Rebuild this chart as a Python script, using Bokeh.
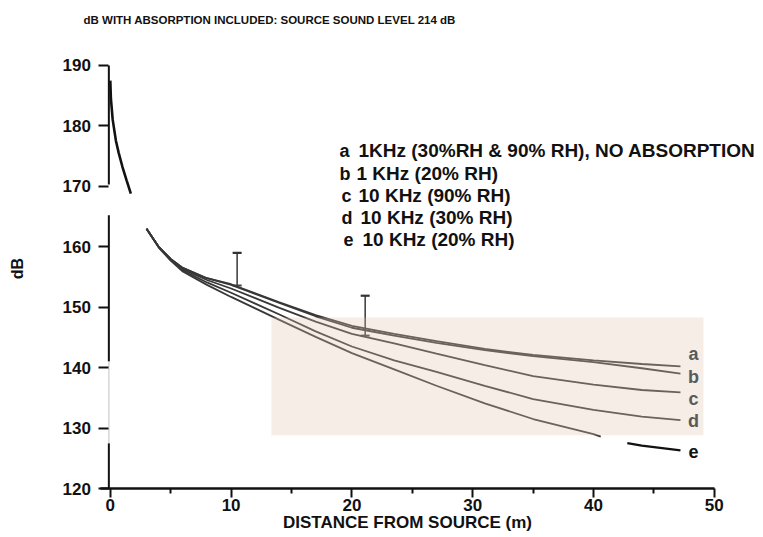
from bokeh.plotting import figure
from bokeh.models import Range1d, Label, Whisker, ColumnDataSource, TeeHead, FixedTicker
from bokeh.embed import file_html
from bokeh.resources import INLINE

# ---------------- data ----------------
near_dist = [0.0, 0.05, 0.2, 0.46, 0.7, 1.01, 1.35, 1.70]
near_db = [187.5, 184.5, 181.0, 177.6, 175.5, 173.2, 171.0, 168.8]

dist = [3, 4, 5, 6, 8, 10, 12, 14, 17, 20, 23.5, 27, 31, 35, 40, 44, 47.2]
db_a = [163.0, 160.0, 158.0, 156.5, 154.8, 153.8, 152.3, 150.8, 148.7, 146.9, 145.6, 144.4, 143.1, 142.1, 141.2, 140.6, 140.2]
db_b = [163.0, 160.0, 158.0, 156.5, 154.8, 153.7, 152.2, 150.7, 148.5, 146.6, 145.3, 144.1, 142.9, 141.9, 140.9, 139.9, 139.0]
db_c = [163.0, 160.0, 157.9, 156.3, 154.5, 153.1, 151.5, 149.9, 147.6, 145.6, 144.0, 142.3, 140.4, 138.6, 137.2, 136.3, 135.9]
db_d = [163.0, 160.0, 157.8, 156.1, 154.1, 152.4, 150.6, 148.8, 146.0, 143.5, 141.2, 139.3, 137.0, 134.8, 133.0, 131.9, 131.3]
dist_e_in = [3, 4, 5, 6, 8, 10, 12, 14, 17, 20, 23.5, 27, 31, 35, 40, 40.6]
db_e_in = [163.0, 159.9, 157.7, 155.9, 153.7, 151.7, 149.8, 147.9, 145.1, 142.4, 139.7, 137.0, 134.1, 131.5, 129.0, 128.6]
dist_e_out = [42.8, 44, 47.2]
db_e_out = [127.5, 127.1, 126.3]

bar_dist = [10.5, 21.1]
bar_low = [153.6, 145.3]
bar_high = [159.0, 151.9]

shade_x = [13.34, 49.1]
shade_y = [128.8, 148.3]

axis_break = [170.3, 165.2]
axis_faint = [141.0, 127.5]

y_ticks = [120, 130, 140, 150, 160, 170, 180, 190]
x_ticks = [0, 10, 20, 30, 40, 50]
x_minor = [5, 15, 25, 35, 45]

curve_keys = ["a", "b", "c", "d", "e"]
curve_key_db = [142.3, 138.5, 134.8, 131.25, 126.1]

legend_keys = ["a", "b", "c", "d", "e"]
legend_texts = ["1KHz (30%RH & 90% RH), NO ABSORPTION", "1 KHz (20% RH)",
                "10 KHz (90% RH)", "10 KHz (30% RH)", "10 KHz (20% RH)"]

title_text = "dB WITH ABSORPTION INCLUDED: SOURCE SOUND LEVEL 214 dB"
x_label = "DISTANCE FROM SOURCE (m)"
y_label = "dB"

# ---------------- layout / styling ----------------
W, H = 763, 537
PX0, PXM = 109.8, 12.08      # page x of 0 m, pixels per metre
PY120, PYDB = 488.0, 6.043   # page y of 120 dB, pixels per dB

FONT = "Liberation Sans"
INK = "#111111"
LINE = "#383838"

x_range = Range1d(-PX0 / PXM, (W - PX0) / PXM)
y_range = Range1d(120 - (H - PY120) / PYDB, 120 + PY120 / PYDB)

p = figure(width=W, height=H, output_backend="svg", toolbar_location=None,
           x_range=x_range, y_range=y_range,
           min_border_left=0, min_border_right=0, min_border_top=0, min_border_bottom=0)
p.background_fill_color = "white"
p.border_fill_color = "white"
p.outline_line_color = None
p.xgrid.visible = False
p.ygrid.visible = False


def dx(px):
    return (px - PX0) / PXM


def dy(py):
    return 120 + (PY120 - py) / PYDB


ax_x = -0.12   # location of the (broken) vertical axis

# x axis
xa = p.xaxis[0]
xa.fixed_location = y_ticks[0]
xa.bounds = (-0.8, x_ticks[-1])
xa.ticker = FixedTicker(ticks=x_ticks, minor_ticks=x_minor)
xa.axis_line_color = INK
xa.axis_line_width = 2.5
xa.major_tick_line_color = INK
xa.major_tick_line_width = 2
xa.major_tick_out = 9
xa.major_tick_in = 0
xa.minor_tick_line_color = INK
xa.minor_tick_line_width = 2
xa.minor_tick_out = 5
xa.minor_tick_in = 0
xa.major_label_standoff = 1
xa.major_label_text_font = FONT
xa.major_label_text_font_style = "bold"
xa.major_label_text_font_size = "17px"
xa.major_label_text_color = INK
xa.axis_label = x_label
xa.axis_label_text_font = FONT
xa.axis_label_text_font_style = "bold"
xa.axis_label_text_font_size = "17px"
xa.axis_label_text_color = INK
xa.axis_label_standoff = -1

# y axis (the 120 tick coincides with the x axis line, so bounds start above it)
ya = p.yaxis[0]
ya.fixed_location = ax_x
ya.bounds = (122.8, y_ticks[-1])
ya.ticker = FixedTicker(ticks=y_ticks, minor_ticks=[])
ya.axis_line_color = None
ya.major_tick_line_color = INK
ya.major_tick_line_width = 2
ya.major_tick_out = 10
ya.major_tick_in = 0
ya.minor_tick_line_color = None
ya.major_label_standoff = 8
ya.major_label_text_font = FONT
ya.major_label_text_font_style = "bold"
ya.major_label_text_font_size = "17px"
ya.major_label_text_color = INK
ya.axis_label = y_label
ya.axis_label_text_font = FONT
ya.axis_label_text_font_style = "bold"
ya.axis_label_text_font_size = "16px"
ya.axis_label_text_color = INK
ya.axis_label_standoff = 33

# broken / partly faded y axis line
p.segment(x0=[ax_x] * 3, y0=[y_ticks[-1], axis_break[1], axis_faint[1]],
          x1=[ax_x] * 3, y1=[axis_break[0], axis_faint[0], y_ticks[0]],
          line_color=INK, line_width=2)
p.segment(x0=[ax_x], y0=[axis_faint[0]], x1=[ax_x], y1=[axis_faint[1]],
          line_color="#d6d6d6", line_width=1.5)

# curves
p.line(near_dist, near_db, line_color=INK, line_width=2.6)
for ys in (db_a, db_b, db_c, db_d):
    p.line(dist, ys, line_color=LINE, line_width=1.8)
p.line(dist_e_in, db_e_in, line_color=LINE, line_width=1.8)
p.line(dist_e_out, db_e_out, line_color=INK, line_width=2.4)

# shaded region on top (tints the lines inside)
p.quad(left=shade_x[0], right=shade_x[1], bottom=shade_y[0], top=shade_y[1],
       fill_color="#e1c3ac", fill_alpha=0.3, line_color=None)

# error bars
src = ColumnDataSource(dict(x=bar_dist, lo=bar_low, hi=bar_high))
p.add_layout(Whisker(source=src, base="x", lower="lo", upper="hi", dimension="height",
                     line_color="#444444", line_width=1.6,
                     upper_head=TeeHead(size=9, line_color="#333333", line_width=2.2),
                     lower_head=TeeHead(size=9, line_color="#444444", line_width=2)))

# curve end labels
for k, yv in zip(curve_keys, curve_key_db):
    p.add_layout(Label(x=48.28, y=yv, text=k, text_align="center", text_baseline="middle",
                       text_font=FONT, text_font_style="bold", text_font_size="18px",
                       text_color=INK if k == "e" else "#5a5a5a"))

# title
p.add_layout(Label(x=dx(83), y=dy(19.5), text=title_text, text_baseline="middle",
                   text_font=FONT, text_font_style="bold", text_font_size="11.5px",
                   text_color=INK))

# legend text
key_px = [339, 339, 341, 341, 343]
txt_px = [358, 356, 358, 360, 362]
row_py = [150, 173, 195, 217, 239]
for k, t, kx, tx, ry in zip(legend_keys, legend_texts, key_px, txt_px, row_py):
    p.add_layout(Label(x=dx(kx), y=dy(ry), text=k, text_baseline="middle",
                       text_font=FONT, text_font_style="bold", text_font_size="18px",
                       text_color=INK))
    p.add_layout(Label(x=dx(tx), y=dy(ry), text=t, text_baseline="middle",
                       text_font=FONT, text_font_style="bold", text_font_size="19px",
                       text_color=INK))

open("out.html", "w").write(file_html(p, INLINE))
